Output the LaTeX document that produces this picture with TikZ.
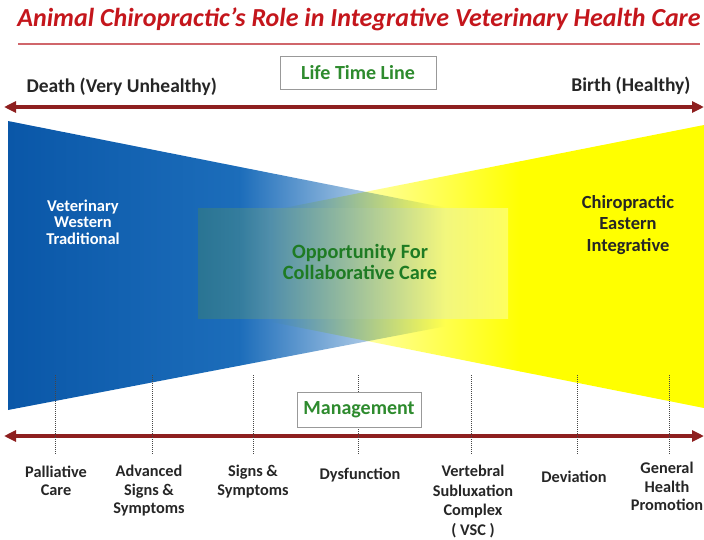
\documentclass[tikz,border=0pt]{standalone}
\usepackage{fontspec}
\setmainfont{Carlito}
\usetikzlibrary{arrows.meta}
\definecolor{titlered}{HTML}{C4161C}
\definecolor{linered}{HTML}{D0666B}
\definecolor{arrowred}{HTML}{8E1F1F}
\definecolor{boxgreen}{HTML}{2E8B2E}
\definecolor{caregreen}{HTML}{1E7B23}
\definecolor{deepblue}{HTML}{0A57A8}
\definecolor{innerblue}{HTML}{1C6DBA}
\definecolor{midblue}{HTML}{6BA3DE}
\definecolor{brightyellow}{HTML}{FFFF00}
\definecolor{paleyellow}{HTML}{FFFF90}
\definecolor{collabgreen}{HTML}{4C8C50}
\definecolor{labelgray}{HTML}{262626}

\begin{document}
\begin{tikzpicture}[x=1pt,y=-1pt,
	timeline/.style={draw=arrowred,line width=3.5pt,{Triangle[length=12pt,width=11pt]}-{Triangle[length=12pt,width=11pt]}},
	headbox/.style={draw=gray!80,line width=0.8pt,fill=white,text=boxgreen,inner sep=0pt,font=\bfseries\fontsize{20}{22}\selectfont},
	endlabel/.style={text=labelgray,font=\bfseries\fontsize{19.5}{22}\selectfont},
	stagelabel/.style={text=labelgray,align=center,anchor=north,font=\bfseries\fontsize{16.3}{18.5}\selectfont},
	tick/.style={draw=gray!55!black,line width=0.9pt,dash pattern=on 1pt off 1pt}]
				\useasboundingbox (0,0) rectangle (704,539);
				\begin{scope}
					\clip (8,121) -- (750,268) -- (8,410) -- cycle;
					\shade[left color=deepblue,right color=innerblue] (8,100) rectangle (240,430);
					\shade[left color=innerblue,middle color=midblue,right color=white] (239.5,100) rectangle (445,430);
				\end{scope}
				\begin{scope}[blend mode=multiply]
					\clip (704,125) -- (-10,266) -- (704,408) -- cycle;
					\fill[brightyellow] (520,100) rectangle (704,430);
					\shade[left color=white,middle color=paleyellow,right color=brightyellow] (270,100) rectangle (520.5,430);
				\end{scope}
				\shade[left color=collabgreen,right color=white,opacity=0.34] (198,208) rectangle (508,318);
				\node[text=titlered,font=\bfseries\itshape\fontsize{26}{30}\selectfont] (title) at (359,19) {Animal Chiropractic’s Role in Integrative Veterinary Health Care};
				\coordinate (ruleL) at (18,44);
				\coordinate (ruleR) at (700,44);
				\draw[linered,line width=1.8pt] (ruleL) -- (ruleR);
				\node[endlabel,anchor=west] (death) at (23,87) {Death (Very Unhealthy)};
				\node[endlabel,anchor=east] (birth) at (694,86) {Birth (Healthy)};
				\coordinate (topL) at (4,107);
				\coordinate (topR) at (704,107);
				\draw[timeline] (topL) -- (topR);
				\node[headbox,minimum width=156pt,minimum height=33pt] (lifeline) at (358,72.5) {Life Time Line};
				\node[text=white,align=center,font=\bfseries\fontsize{16.5}{16.5}\selectfont] (western) at (83,222) {Veterinary\\Western\\Traditional};
				\node[text=caregreen,align=center,font=\bfseries\fontsize{20.3}{21}\selectfont] (collab) at (360,262) {Opportunity For\\Collaborative Care};
				\node[text=labelgray,align=center,font=\bfseries\fontsize{18.5}{21.5}\selectfont] (eastern) at (628,225) {Chiropractic\\Eastern\\Integrative};
				\coordinate (botL) at (4,436);
				\coordinate (botR) at (704,436);
				\draw[timeline] (botL) -- (botR);
				\foreach \x [count=\i] in {55,152,253,358,471,577,669}{
					\coordinate (tickT\i) at (\x,375);
					\coordinate (tickB\i) at (\x,455);
					\draw[tick] (tickT\i) -- (tickB\i);
				}
				\node[headbox,minimum width=124pt,minimum height=35pt] (manage) at (359,409.5) {Management};
				\node[stagelabel] (palliative) at (56,462) {Palliative\\Care};
				\node[stagelabel] (advanced) at (149,462) {Advanced\\Signs \&\\Symptoms};
				\node[stagelabel] (signs) at (253,462) {Signs \&\\Symptoms};
				\node[stagelabel] (dysfunction) at (360,464) {Dysfunction};
				\node[stagelabel,font=\bfseries\fontsize{16.3}{19.5}\selectfont] (vsc) at (473,462) {Vertebral\\Subluxation\\Complex\\( VSC )};
				\node[stagelabel] (deviation) at (574,467) {Deviation};
				\node[stagelabel] (promotion) at (667,459) {General\\Health\\Promotion};
			\end{tikzpicture}
\end{document}
